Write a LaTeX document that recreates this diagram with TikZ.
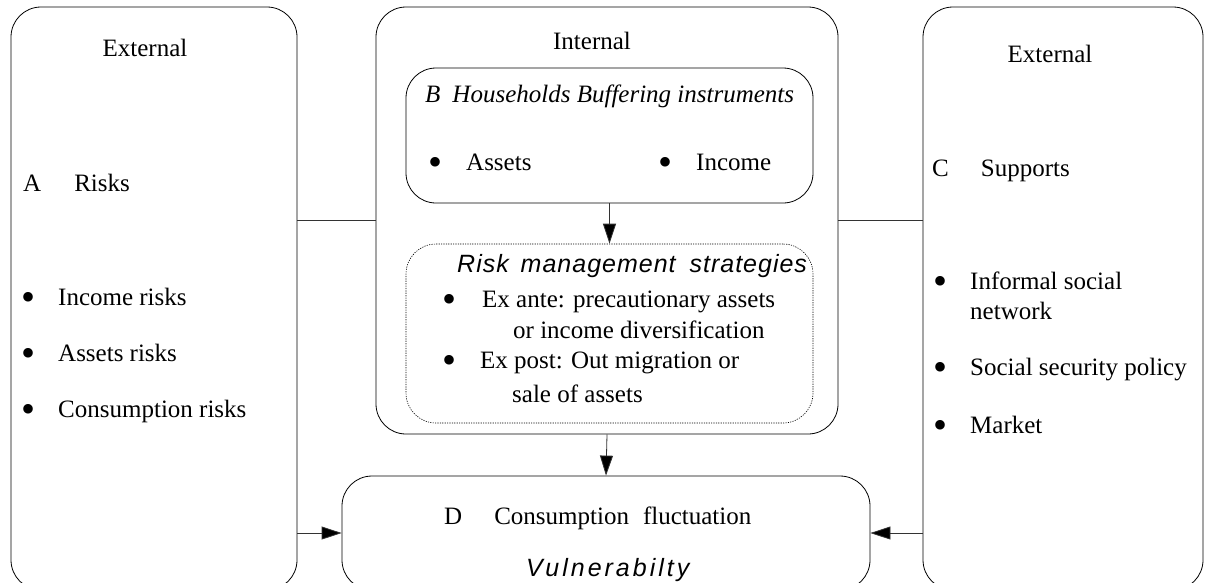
\documentclass[tikz,border=0pt]{standalone}
\usepackage{fontspec}
\setmainfont{Liberation Serif}
\newfontfamily\sansit[LetterSpace=4]{Liberation Sans}
\usetikzlibrary{arrows.meta}

% bullet followed by its text
\newcommand\bitem[2][36pt]{\makebox[#1][l]{\hspace{-1pt}\raisebox{-5pt}{\scalebox{1.6}{\textbullet}}}#2}

\tikzset{
  panel/.style={draw, rounded corners=30pt, inner sep=0pt, line width=0.8pt},
  txt/.style={inner sep=0pt, anchor=base west},
  link/.style={draw=black!80, line width=0.8pt},
  arr/.style={link, -{Triangle[length=20pt,width=13pt,fill=black]}},
}

\begin{document}
\begin{tikzpicture}[x=1pt, y=-1pt, font=\fontsize{25}{30}\selectfont]
  \useasboundingbox (0,0) rectangle (1206,582);

  % Outer panels
  \node[panel, minimum width=286pt, minimum height=583pt] (risk) at (154,298.5) {};
  \node[panel, minimum width=462pt, minimum height=427pt] (inner) at (607,220.5) {};
  \node[panel, minimum width=280pt, minimum height=583pt] (support) at (1063,298.5) {};

  % Inner boxes
  \node[panel, minimum width=407pt, minimum height=135pt] (buffer) at (609.5,135.5) {};
  \node[panel, dash pattern=on 1.2pt off 1.2pt, line width=0.6pt,
        minimum width=407pt, minimum height=179pt] (strategy) at (609.5,333.5) {};
  \node[panel, minimum width=528pt, minimum height=114pt] (fluct) at (606,533) {};

  % Left panel: risks
  \node[txt, anchor=base] at (145,56) {External};
  \node[txt] at (23,191) {A\hspace{33pt}Risks};
  \node[txt] at (22,305) {\bitem{Income risks}};
  \node[txt] at (22,361) {\bitem{Assets risks}};
  \node[txt] at (22,417) {\bitem{Consumption risks}};

  % Middle panel: internal
  \node[txt, anchor=base] at (592,49) {Internal};
  \node[txt] at (425,102) {\itshape B\hspace{12pt}Households Buffering instruments};
  \node[txt] at (429,170) {\bitem[37pt]{Assets}};
  \node[txt] at (659,170) {\bitem[37pt]{Income}};
  \node[txt] at (457,272) {\sansit\itshape Risk\hspace{4pt} management\hspace{6pt} strategies};
  \node[txt] at (443,307) {\bitem[39pt]{Ex ante: precautionary assets}};
  \node[txt] at (513,338) {or income diversification};
  \node[txt] at (443,368) {\bitem[37pt]{Ex post: Out migration or}};
  \node[txt] at (512,402) {sale of assets};

  % Right panel: supports
  \node[txt, anchor=base] at (1050,62) {External};
  \node[txt] at (932,176) {C\hspace{32pt}Supports};
  \node[txt] at (934,289) {\bitem{Informal social}};
  \node[txt] at (970,319) {network};
  \node[txt] at (934,375) {\bitem{Social security policy}};
  \node[txt] at (934,433) {\bitem{Market}};

  % Bottom box
  \node[txt] at (444,524) {D\hspace{32pt}Consumption\hspace{14pt}fluctuation};
  \node[txt] at (526,576) {\sansit\itshape\addfontfeature{LetterSpace=12}Vulnerabilty};

  % Connectors
  \draw[link] (inner.west) -- (inner.west -| risk.east);
  \draw[link] (inner.east) -- (inner.east -| support.west);
  \draw[arr] (buffer.south) -- (strategy.north);
  \draw[arr] (inner.south) -- (fluct.north);
  \draw[arr] (fluct.west -| risk.east) -- (fluct.west);
  \draw[arr] (fluct.east -| support.west) -- (fluct.east);
\end{tikzpicture}
\end{document}
